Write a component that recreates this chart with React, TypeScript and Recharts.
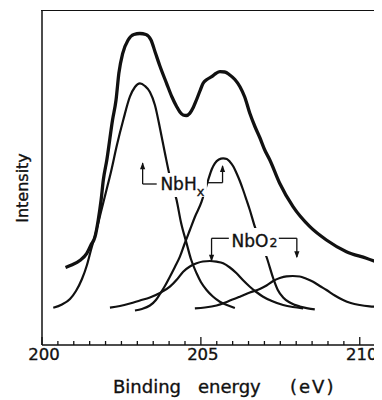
import React from "react";
import { LineChart, Line, XAxis, YAxis, ReferenceLine, ReferenceDot } from "recharts";

// Binding energy (eV), intensity (arb. units, 0 = baseline of frame)
const envelope: [number, number][] = [
  [200.74, 77.5], [200.93, 80], [201.19, 84.5], [201.41, 91.7], [201.54, 100], [201.67, 108.3],
  [201.77, 125], [201.86, 145], [201.93, 165], [202.04, 185], [202.22, 225], [202.33, 245],
  [202.42, 272], [202.54, 291.7], [202.71, 305], [202.89, 310.5], [203.08, 311.5], [203.27, 310.5],
  [203.43, 305], [203.57, 292], [203.71, 279], [203.92, 261.7], [204.09, 248], [204.24, 238.3],
  [204.34, 233], [204.44, 230], [204.54, 229.5], [204.65, 231.7], [204.76, 237.5], [204.86, 245],
  [204.97, 254], [205.07, 261.7], [205.19, 265.5], [205.34, 268.3], [205.47, 271.5], [205.6, 273.3],
  [205.75, 273], [205.91, 270], [206.07, 265.5], [206.23, 258.3], [206.38, 248], [206.54, 231.7],
  [206.7, 218.5], [206.86, 207], [207.01, 195], [207.17, 185], [207.48, 161.7], [207.9, 138.3],
  [208.43, 118.3], [208.95, 105], [209.58, 93.3], [210.21, 86.7], [210.69, 81],
];

const nbhxLow: [number, number][] = [
  [200.355, 37.3], [200.629, 40.5], [200.881, 46], [201.069, 54], [201.258, 66], [201.415, 80],
  [201.541, 95], [201.698, 113], [201.855, 133], [202.013, 153], [202.17, 173], [202.358, 200],
  [202.557, 225], [202.767, 248.3], [202.925, 258], [203.082, 261.7], [203.239, 259], [203.396, 253],
  [203.553, 240], [203.711, 217], [203.868, 192], [204.025, 168.3], [204.236, 145], [204.371, 123],
  [204.55, 101.7], [204.686, 86], [204.865, 71.7], [205.0, 63], [205.179, 55], [205.377, 48.5],
  [205.597, 43.3], [205.818, 40], [206.069, 37],
];

const nbhxHigh: [number, number][] = [
  [202.925, 34.5], [203.145, 36], [203.396, 39.5], [203.585, 45], [203.711, 51], [203.868, 59],
  [204.025, 68.3], [204.182, 78], [204.34, 88.3], [204.497, 102], [204.654, 115], [204.811, 128],
  [205.022, 143.3], [205.126, 154], [205.23, 165], [205.346, 176], [205.44, 181.7], [205.566, 185.5],
  [205.701, 186.7], [205.818, 186], [205.912, 183.3], [206.022, 178.5], [206.123, 171.7], [206.226, 164],
  [206.33, 155], [206.437, 145], [206.541, 135], [206.698, 118.3], [206.887, 102], [207.066, 88],
  [207.274, 67], [207.421, 55], [207.588, 47.5], [207.799, 42.5], [208.113, 38.5], [208.365, 36.7],
  [208.585, 35.7],
];

const nbo2Low: [number, number][] = [
  [202.138, 37.3], [202.453, 39], [202.767, 41.5], [203.082, 44.5], [203.396, 47.5], [203.711, 52],
  [204.025, 58.3], [204.245, 65.5], [204.443, 73.3], [204.654, 78.5], [204.865, 81.7], [205.063, 83.5],
  [205.283, 84], [205.487, 83.3], [205.701, 81.7], [205.912, 77.5], [206.123, 71.7], [206.321, 65],
  [206.541, 58.3], [206.745, 53], [206.959, 48.3], [207.233, 44], [207.588, 40], [207.893, 38],
  [208.217, 36.7],
];

const nbo2High: [number, number][] = [
  [204.811, 36.7], [205.126, 37.5], [205.494, 39.5], [205.849, 43.5], [206.226, 48.3], [206.541, 52.5],
  [206.855, 56], [207.066, 59.5], [207.274, 64], [207.484, 67], [207.695, 68.7], [207.893, 69],
  [208.113, 68.5], [208.302, 66.5], [208.531, 63.3], [208.742, 59], [208.953, 55], [209.214, 49.5],
  [209.475, 45], [209.717, 42], [210.0, 40], [210.314, 38.7], [210.692, 38],
];

const xTicks = [
  200, 200.5, 201, 201.5, 202, 202.5, 203, 203.5, 204, 204.5, 205, 205.5,
  206, 206.5, 207, 207.5, 208, 208.5, 209, 209.5, 210, 210.5,
];
const xTickLabels = [200, 205, 210];
const yTop = 334;

// annotation anchors (data coordinates)
const nbhxLabel = { e: 204.403, i: 160 };
const nbo2Label = { e: 206.667, i: 103 };
const bracketSegments: [number, number, number, number][] = [
  [203.167, 161, 203.167, 182],
  [203.167, 161, 203.61, 161],
  [205.198, 162.3, 205.682, 162.3],
  [205.682, 162.3, 205.682, 179],
  [205.336, 106.7, 205.88, 106.7],
  [205.336, 106.7, 205.336, 84.5],
  [207.453, 106.7, 208.02, 106.7],
  [208.02, 106.7, 208.02, 88],
];
const arrowTips: [number, number, "up" | "down"][] = [
  [203.167, 182.7, "up"],
  [205.682, 180, "up"],
  [205.336, 83.3, "down"],
  [208.02, 86.7, "down"],
];

const CHART_W = 374;
const CHART_H = 392;
const MARGIN = { top: 3, right: 0, bottom: 5, left: 0 };
const Y_AXIS_W = 34;
const INK = "#111";
const FONT = "'DejaVu Sans', sans-serif";
const TEXT_STROKE = { stroke: INK, strokeWidth: 0.35 };
const rows = (pts: [number, number][]) => pts.map(([e, i]) => ({ e, i }));

const Tick = (props: any) => {
  const { x, y, payload } = props;
  const v = payload.value;
  const major = xTickLabels.includes(v);
  return (
    <g>
      <line x1={x} x2={x} y1={y} y2={y - (major ? 8 : 4)} stroke={INK} strokeWidth={1.3} />
      {major && (
        <text x={x + 2} y={y + 15} textAnchor="middle" fontSize={16.5} fontFamily={FONT} fill={INK} {...TEXT_STROKE}>
          {v}
        </text>
      )}
    </g>
  );
};

const XTitle = (props: any) => {
  const vb = props.viewBox || { x: 34, y: 337 };
  const y = vb.y + 48;
  return (
    <text y={y} fontSize={18} fontFamily={FONT} fill={INK} {...TEXT_STROKE}>
      <tspan x={vb.x + 71}>Binding</tspan>
      <tspan x={vb.x + 156}>energy</tspan>
      <tspan x={vb.x + 248} letterSpacing={2}>(eV)</tspan>
    </text>
  );
};

const YTitle = (props: any) => {
  const vb = props.viewBox || { x: 0, y: 3 };
  const x = vb.x + 20;
  const y = vb.y + 177;
  return (
    <text x={x} y={y} transform={`rotate(-90 ${x} ${y})`} textAnchor="middle" fontSize={16} fontFamily={FONT} fill={INK} {...TEXT_STROKE}>
      Intensity
    </text>
  );
};

const NbHxShape = (p: any) => {
  const { cx, cy } = p;
  return (
    <g>
      <rect x={cx - 25} y={cy - 12} width={50} height={24} fill="#fff" />
      <text x={cx - 21.5} y={cy + 5} fontSize={17} fontFamily={FONT} fill={INK} {...TEXT_STROKE}>
        NbH<tspan fontSize={13} dy={6}>x</tspan>
      </text>
    </g>
  );
};

const NbO2Shape = (p: any) => {
  const { cx, cy } = p;
  return (
    <g>
      <rect x={cx - 24} y={cy - 14} width={48} height={28} fill="#fff" />
      <text x={cx - 22.3} y={cy + 4.7} fontSize={17} fontFamily={FONT} fill={INK} {...TEXT_STROKE}>
        NbO<tspan fontSize={12.5} dx={1} dy={0.5}>2</tspan>
      </text>
    </g>
  );
};

const arrowShape = (dir: "up" | "down") => (p: any) => {
  const { cx, cy } = p;
  const s = dir === "up" ? 1 : -1;
  return <polygon points={`${cx},${cy} ${cx - 2.6},${cy + s * 7} ${cx + 2.6},${cy + s * 7}`} fill={INK} />;
};

export default function App() {
  return (
    <div style={{ position: "relative", width: CHART_W, height: CHART_H }}>
      <LineChart width={CHART_W} height={CHART_H} margin={MARGIN}>
        <XAxis
          dataKey="e"
          type="number"
          domain={[200, 210.7]}
          allowDataOverflow
          ticks={xTicks}
          interval={0}
          tick={<Tick />}
          tickLine={false}
          tickSize={0}
          tickMargin={0}
          height={50}
          axisLine={{ stroke: INK, strokeWidth: 1.5 }}
          label={<XTitle />}
        />
        <YAxis
          type="number"
          domain={[0, yTop]}
          allowDataOverflow
          tick={false}
          tickLine={false}
          width={Y_AXIS_W}
          axisLine={{ stroke: INK, strokeWidth: 1.5 }}
          label={<YTitle />}
        />
        <Line data={rows(envelope)} dataKey="i" type="monotone" stroke={INK} strokeWidth={3.3} dot={false} activeDot={false} isAnimationActive={false} />
        <Line data={rows(nbhxLow)} dataKey="i" type="monotone" stroke={INK} strokeWidth={2.2} dot={false} activeDot={false} isAnimationActive={false} />
        <Line data={rows(nbhxHigh)} dataKey="i" type="monotone" stroke={INK} strokeWidth={2.2} dot={false} activeDot={false} isAnimationActive={false} />
        <Line data={rows(nbo2Low)} dataKey="i" type="monotone" stroke={INK} strokeWidth={2.2} dot={false} activeDot={false} isAnimationActive={false} />
        <Line data={rows(nbo2High)} dataKey="i" type="monotone" stroke={INK} strokeWidth={2.2} dot={false} activeDot={false} isAnimationActive={false} />
        <ReferenceDot x={nbhxLabel.e} y={nbhxLabel.i} r={1} shape={NbHxShape} zIndex={1500} />
        <ReferenceDot x={nbo2Label.e} y={nbo2Label.i} r={1} shape={NbO2Shape} zIndex={1500} />
        {bracketSegments.map(([x1, y1, x2, y2], k) => (
          <ReferenceLine
            key={`s${k}`}
            segment={[{ x: x1, y: y1 }, { x: x2, y: y2 }]}
            stroke={INK}
            strokeWidth={1.3}
            zIndex={1600}
          />
        ))}
        {arrowTips.map(([e, i, dir], k) => (
          <ReferenceDot key={`a${k}`} x={e} y={i} r={1} shape={arrowShape(dir)} zIndex={1600} />
        ))}
      </LineChart>
      {/* top edge of the plot frame */}
      <div
        style={{
          position: "absolute",
          left: MARGIN.left + Y_AXIS_W - 1,
          top: MARGIN.top - 1,
          width: CHART_W - MARGIN.left - Y_AXIS_W + 1,
          height: 0,
          borderTop: `1.6px solid ${INK}`,
          pointerEvents: "none",
        }}
      />
    </div>
  );
}
